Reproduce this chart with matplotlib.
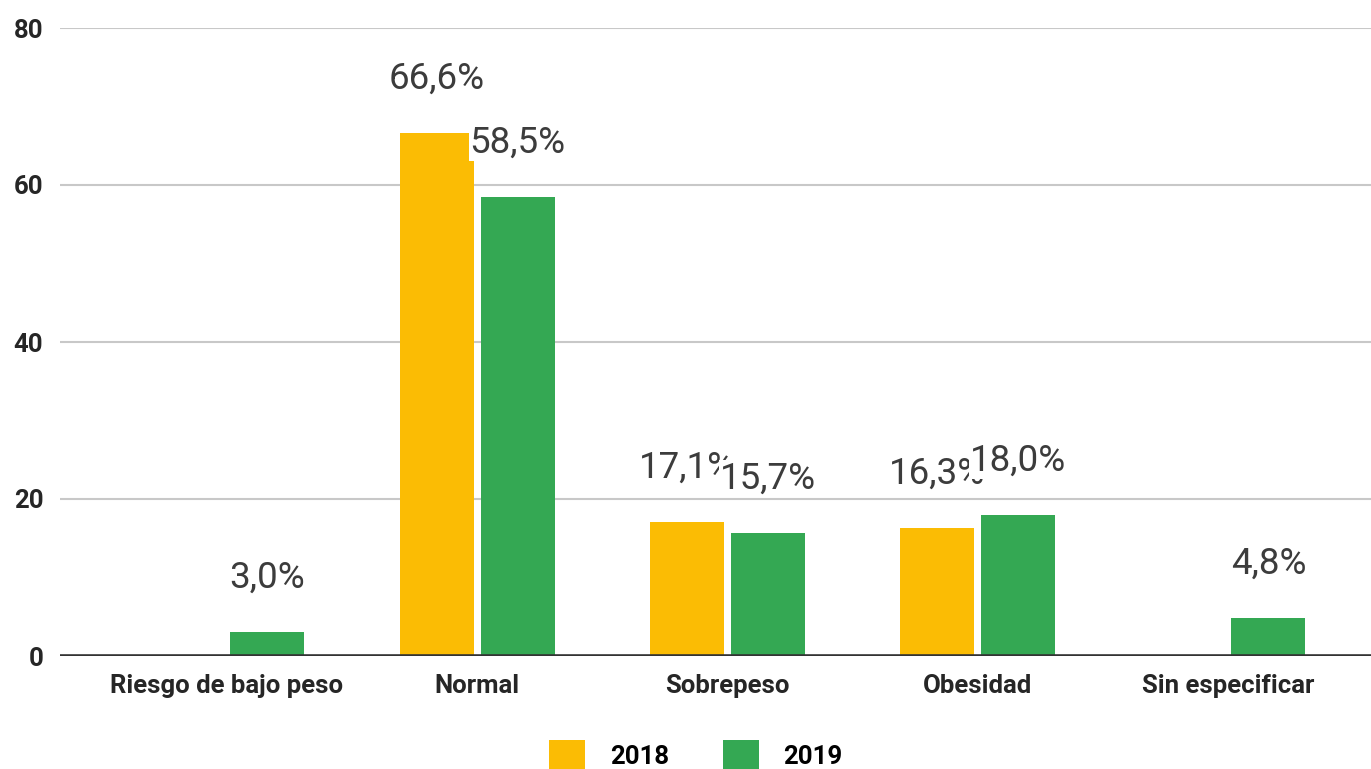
import numpy as np
import matplotlib.pyplot as plt
from matplotlib.patches import Patch

# Daten
categorias = ["Riesgo de bajo peso", "Normal", "Sobrepeso", "Obesidad", "Sin especificar"]
valores_2018 = [np.nan, 66.6, 17.1, 16.3, np.nan]
valores_2019 = [3.0, 58.5, 15.7, 18.0, 4.8]
series = ["2018", "2019"]
colores = ["#FBBC04", "#34A853"]
yticks = [0, 20, 40, 60, 80]

plt.rcParams['font.family'] = ['Roboto', 'DejaVu Sans']

W, H = 1371, 769
fig = plt.figure(figsize=(W / 100, H / 100), dpi=100)
ax = fig.add_axes([60 / W, 113 / H, (W - 60) / W, (656 - 28) / H])

x = np.arange(len(categorias))
ancho = 0.296
desp = 0.162

for i, (vals, color) in enumerate(zip([valores_2018, valores_2019], colores)):
    pos = x + (-desp if i == 0 else desp)
    ax.bar(pos, vals, width=ancho, color=color, zorder=2)
    for p, v in zip(pos, vals):
        if np.isnan(v):
            continue
        txt = f"{v:.1f}".replace('.', ',') + '%'
        kw = {}
        if i == 1:
            kw['bbox'] = dict(facecolor='white', edgecolor='none', pad=0.5)
        ax.annotate(txt, (p, v), xytext=(0, 32), textcoords='offset points',
                    ha='center', va='baseline', fontsize=26.5, color='#3c3c3c',
                    zorder=3, **kw)

ax.set_xlim(-0.667, 4.572)
ax.set_ylim(0, 80)
ax.set_yticks(yticks)
ax.set_xticks(x)
ax.set_xticklabels(categorias, fontsize=18.5, fontweight='bold', color='#262626')
ax.tick_params(axis='y', length=0, pad=12, labelsize=18.5, labelcolor='#262626')
ax.tick_params(axis='x', length=0, pad=13)
for lab in ax.get_yticklabels():
    lab.set_fontweight('bold')

ax.grid(axis='y', color='#c8c8c8', linewidth=1.5, zorder=0)
ax.axhline(0, color='#333333', linewidth=2.6, zorder=4)
for s in ax.spines.values():
    s.set_visible(False)

handles = [Patch(facecolor=c, edgecolor='none') for c in colores]
fig.legend(handles, series, loc='center', bbox_to_anchor=(696 / W, 14 / H),
           ncol=2, frameon=False, prop={'size': 18.5, 'weight': 'bold'},
           handlelength=1.4, handleheight=1.4,
           handletextpad=0.95, columnspacing=2.1)

fig.savefig('out.png', dpi=100, facecolor='white')
